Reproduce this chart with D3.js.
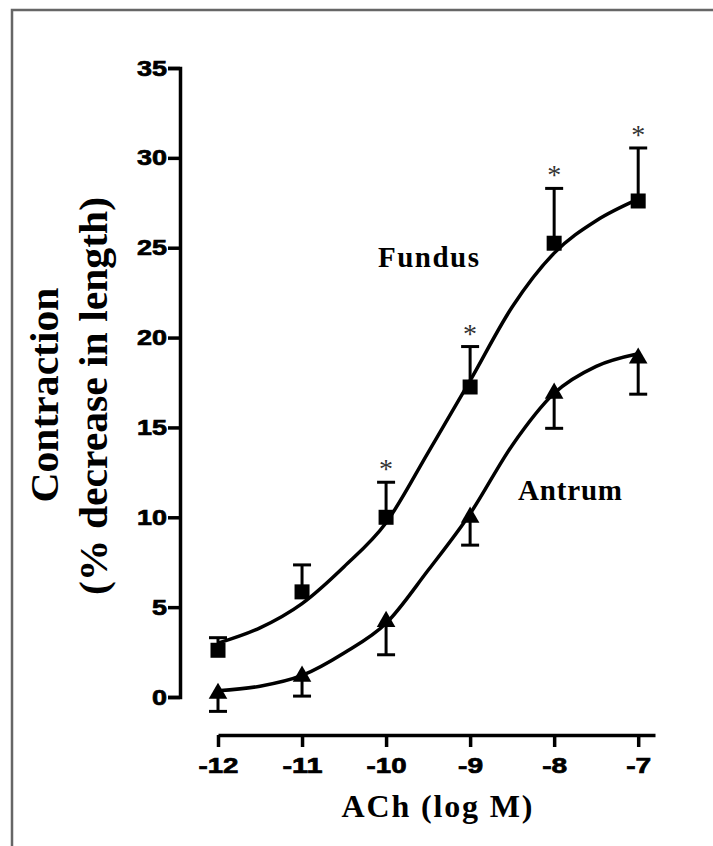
<!DOCTYPE html>
<html>
<head>
<meta charset="utf-8">
<script src="https://cdn.jsdelivr.net/npm/d3@7"></script>
<style>
  body { margin: 0; background: #fff; }
  .tick text { font-family: "Liberation Sans", Arial, sans-serif; font-weight: bold; stroke: #000; stroke-width: 0.7px; }
</style>
</head>
<body>
<div id="my_dataviz"></div>
<script>
// doses (log M)
var doses = [-12, -11, -10, -9, -8, -7];

// fundus: mean and SEM (bars drawn upward)
var fundusMean = [2.6, 5.85, 10.0, 17.25, 25.25, 27.6];
var fundusSem = [0.7, 1.5, 1.95, 2.25, 3.05, 2.95];

// antrum: mean and SEM (bars drawn downward)
var antrumMean = [0.2, 1.15, 4.2, 10.0, 16.9, 18.85];
var antrumSem = [1.0, 1.1, 1.85, 1.55, 1.95, 2.0];

// fitted curves
var curveDoses = [-12, -11.5, -11, -10.5, -10, -9.5, -9, -8.5, -8, -7.5, -7];
var fundusCurve = [3.0, 3.85, 5.2, 7.25, 9.7, 13.6, 17.6, 21.7, 24.7, 26.5, 27.7];
var antrumCurve = [0.35, 0.6, 1.2, 2.45, 4.1, 7.05, 10.2, 14.0, 16.9, 18.4, 19.1];

// doses where fundus is significant
var starDoses = [-10, -9, -8, -7];

var yTicks = [0, 5, 10, 15, 20, 25, 30, 35];
var xTicks = [-12, -11, -10, -9, -8, -7];

var width = 713, height = 846;

var svg = d3.select("#my_dataviz")
  .append("svg")
  .attr("width", width)
  .attr("height", height);

// frame (left and top edges only are visible)
svg.append("path")
  .attr("d", "M12,846V10H713")
  .attr("fill", "none")
  .attr("stroke", "#666")
  .attr("stroke-width", 2.5);

var x = d3.scaleLinear().domain([-12, -6.8]).range([218, 655]);
var y = d3.scaleLinear().domain([0, 35]).range([697, 68]);

// wide heavy digits like the original
function labelWidth(s) {
  var n = s.replace("-", "").length;
  return 15 * n + (s[0] === "-" ? 10 : 0);
}

// y axis
var yAxis = svg.append("g")
  .attr("transform", "translate(180,0)")
  .call(d3.axisLeft(y).tickValues(yTicks).tickSize(12).tickSizeOuter(12).tickPadding(1));
yAxis.selectAll("text")
  .style("font-size", "22px")
  .attr("textLength", function() { return labelWidth(this.textContent); })
  .attr("lengthAdjust", "spacingAndGlyphs");

// x axis
var xAxis = svg.append("g")
  .attr("transform", "translate(0,735)")
  .call(d3.axisBottom(x).tickValues(xTicks).tickSize(12).tickSizeOuter(0).tickPadding(10)
    .tickFormat(d => "-" + Math.abs(d)));
xAxis.selectAll("text")
  .style("font-size", "22px")
  .attr("textLength", function() { return labelWidth(this.textContent); })
  .attr("lengthAdjust", "spacingAndGlyphs");

svg.selectAll(".domain, .tick line")
  .attr("stroke", "#000")
  .attr("stroke-width", 3.5);

// curves
var line = d3.line()
  .x((d, i) => x(curveDoses[i]))
  .y(d => y(d))
  .curve(d3.curveMonotoneX);

[fundusCurve, antrumCurve].forEach(function(c) {
  svg.append("path")
    .attr("d", line(c))
    .attr("fill", "none")
    .attr("stroke", "#000")
    .attr("stroke-width", 3.5);
});

// error bars
function errorBars(mean, sem, dir) {
  var g = svg.append("g").attr("stroke", "#000").attr("stroke-width", 3);
  doses.forEach(function(d, i) {
    var end = mean[i] + dir * sem[i];
    g.append("line")
      .attr("x1", x(d)).attr("x2", x(d))
      .attr("y1", y(mean[i])).attr("y2", y(end));
    g.append("line")
      .attr("x1", x(d) - 9).attr("x2", x(d) + 9)
      .attr("y1", y(end)).attr("y2", y(end));
  });
}
errorBars(fundusMean, fundusSem, 1);
errorBars(antrumMean, antrumSem, -1);

// markers
svg.selectAll("rect.fundus")
  .data(fundusMean)
  .enter()
  .append("rect")
  .attr("x", (d, i) => x(doses[i]) - 7.5)
  .attr("y", d => y(d) - 7.5)
  .attr("width", 15)
  .attr("height", 15)
  .attr("fill", "#000");

svg.selectAll("path.antrum")
  .data(antrumMean)
  .enter()
  .append("path")
  .attr("d", d3.symbol().type(d3.symbolTriangle).size(150))
  .attr("transform", (d, i) => "translate(" + x(doses[i]) + "," + y(d) + ")")
  .attr("fill", "#000");

// significance stars
svg.selectAll("text.star")
  .data(starDoses)
  .enter()
  .append("text")
  .attr("x", d => x(d))
  .attr("y", d => {
    var i = doses.indexOf(d);
    return y(fundusMean[i] + fundusSem[i]) - 4;
  })
  .attr("text-anchor", "middle")
  .style("font-family", "Liberation Serif, Times New Roman, serif")
  .style("font-size", "28px")
  .attr("fill", "#333")
  .text("*");

// series labels
svg.append("text")
  .attr("x", 378).attr("y", 267)
  .attr("textLength", 101)
  .style("font-family", "Liberation Serif, Times New Roman, serif")
  .style("font-weight", "bold")
  .style("font-size", "29px")
  .text("Fundus");

svg.append("text")
  .attr("x", 518).attr("y", 500)
  .attr("textLength", 104)
  .style("font-family", "Liberation Serif, Times New Roman, serif")
  .style("font-weight", "bold")
  .style("font-size", "29px")
  .text("Antrum");

// axis titles
svg.append("text")
  .attr("transform", "translate(58,395) rotate(-90)")
  .attr("text-anchor", "middle")
  .attr("textLength", 215)
  .attr("lengthAdjust", "spacingAndGlyphs")
  .style("font-family", "Liberation Serif, Times New Roman, serif")
  .style("font-weight", "bold")
  .style("font-size", "39px")
  .text("Contraction");

svg.append("text")
  .attr("transform", "translate(107,396) rotate(-90)")
  .attr("text-anchor", "middle")
  .attr("textLength", 398)
  .attr("lengthAdjust", "spacingAndGlyphs")
  .style("font-family", "Liberation Serif, Times New Roman, serif")
  .style("font-weight", "bold")
  .style("font-size", "39px")
  .text("(% decrease in length)");

svg.append("text")
  .attr("x", 437).attr("y", 817)
  .attr("text-anchor", "middle")
  .attr("textLength", 191)
  .style("font-family", "Liberation Serif, Times New Roman, serif")
  .style("font-weight", "bold")
  .style("font-size", "32px")
  .text("ACh (log M)");
</script>
</body>
</html>
